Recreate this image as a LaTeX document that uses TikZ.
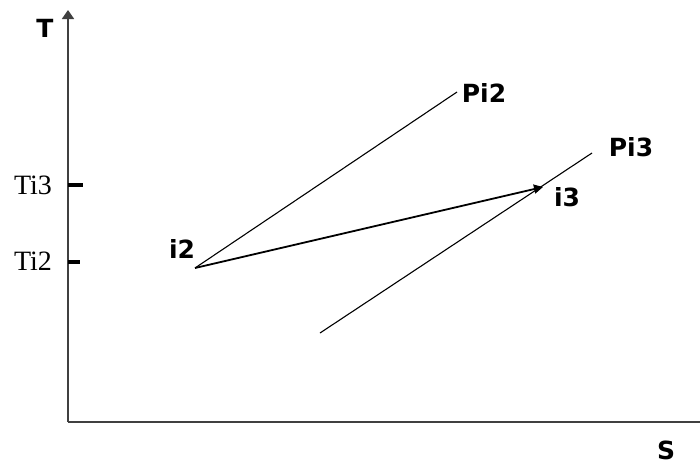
\documentclass[tikz,border=0pt]{standalone}
\usepackage{fontspec}
\setmainfont{Liberation Serif}
\newfontfamily\labelfont{DejaVu Sans}
\usetikzlibrary{arrows.meta,positioning,calc}

\tikzset{
  ptlabel/.style={font=\labelfont\bfseries\fontsize{25}{27}\selectfont, inner sep=0pt},
  ticklabel/.style={font=\fontsize{28}{30}\selectfont, inner sep=0pt},
  axisline/.style={line width=1.8pt, draw=black!75},
  isobar/.style={line width=1.1pt},
}

\begin{document}
\begin{tikzpicture}[x=1pt,y=-1pt]
        \useasboundingbox (0,0) rectangle (700,464);
        % Axes
        \coordinate (O) at (68,422);
        \coordinate (Tend) at (68,10);
        \coordinate (Send) at (700,422);
        \draw[axisline,-{Triangle[width=12pt,length=9pt]}] (O)--(Tend);
        \draw[axisline] (O)--(Send);
        \node[ptlabel] (T) at (45,28) {T};
        \node[ptlabel] (S) at (666,450) {S};
        % Ticks
        \coordinate (t3a) at (68,185);
        \coordinate (t3b) at (83,185);
        \coordinate (t2a) at (68,262);
        \coordinate (t2b) at (80,262);
        \draw[line width=3.5pt] (t3a)--(t3b);
        \draw[line width=3.5pt] (t2a)--(t2b);
        \node[ticklabel] (Ti3) at (33,185) {Ti3};
        \node[ticklabel] (Ti2) at (33,261) {Ti2};
        % Isobars
        \coordinate (i2) at (195,268);
        \coordinate (P2) at (457,92);
        \coordinate (Q3) at (320,333);
        \coordinate (P3) at (592,153);
        \coordinate (i3) at (543,187);
        \draw[isobar] (i2)--(P2);
        \draw[isobar] (Q3)--(P3);
        % Process
        \draw[line width=1.8pt,-{Triangle[width=9pt,length=9pt]}] (i2)--(i3);
        \node[ptlabel] (Li2) at (182,249) {i2};
        \node[ptlabel] (Li3) at (567,197) {i3};
        \node[ptlabel] (LP2) at (484,93) {Pi2};
        \node[ptlabel] (LP3) at (631,147) {Pi3};
      \end{tikzpicture}
\end{document}
